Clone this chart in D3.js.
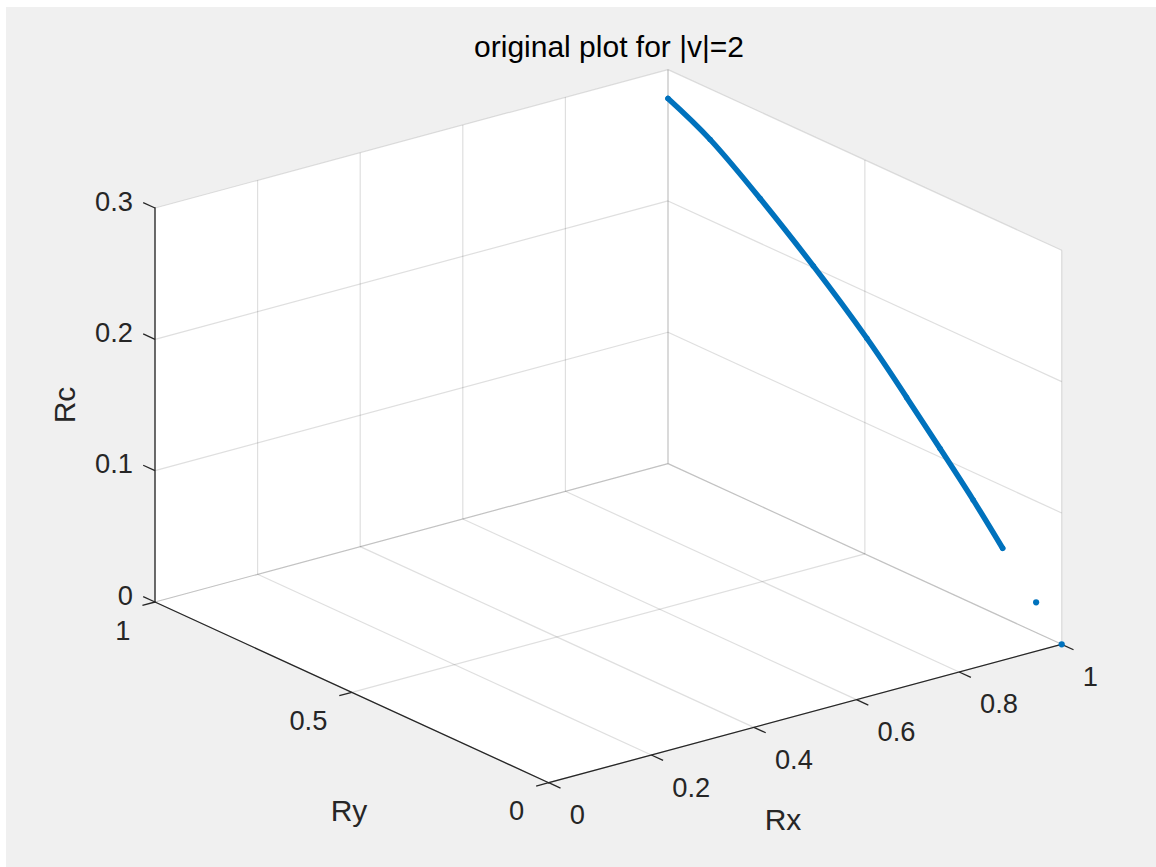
<!DOCTYPE html>
<html>
<head>
<meta charset="utf-8">
<script src="https://cdn.jsdelivr.net/npm/d3@7"></script>
<style>
  html, body { margin: 0; padding: 0; background: #ffffff; }
  svg { display: block; }
  text { font-family: "Liberation Sans", Arial, Helvetica, sans-serif; }
</style>
</head>
<body>
<svg id="chart" width="1156" height="867"></svg>
<script>
// ---- data -------------------------------------------------------------
const titleText = "original plot for |v|=2";
const xLabel = "Rx", yLabel = "Ry", zLabel = "Rc";

// tick values
const rxTicks = [0, 0.2, 0.4, 0.6, 0.8, 1];
const ryTicks = [0, 0.5, 1];
const rcTicks = [0, 0.1, 0.2, 0.3];

// continuous run of samples (all on the Rx = 1 wall)
const traceRx = [1, 1, 1, 1, 1, 1, 1, 1, 1];
const traceRy = [1.000, 0.893, 0.766, 0.631, 0.495, 0.394, 0.309, 0.225, 0.150];
const traceRc = [0.278, 0.2615, 0.234, 0.2013, 0.1649, 0.1338, 0.1065, 0.079, 0.0525];

// isolated samples near the floor
const isoRx = [1, 1];
const isoRy = [0.065, 0];
const isoRc = [0.023, 0];

// ---- layout -----------------------------------------------------------
const W = 1156, H = 867;
const origin = [548.7, 782.7];       // screen position of (0,0,0)
const EX = [513, -138.4];            // screen vector for the full Rx range
const EY = [-393.7, -180.7];         // screen vector for the full Ry range
const EZ = [0, -394];                // screen vector for the full Rc range

const sx = d3.scaleLinear().domain([0, 1]).range([0, 1]);
const sy = d3.scaleLinear().domain([0, 1]).range([0, 1]);
const sz = d3.scaleLinear().domain([0, 0.3]).range([0, 1]);

function project(x, y, z) {
  const a = sx(x), b = sy(y), c = sz(z);
  return [origin[0] + a * EX[0] + b * EY[0] + c * EZ[0],
          origin[1] + a * EX[1] + b * EY[1] + c * EZ[1]];
}
function unit(v) { const l = Math.hypot(v[0], v[1]); return [v[0] / l, v[1] / l]; }

const axisColor = "#262626";
const gridColor = "rgba(38,38,38,0.15)";
const dataColor = "#0072BD";
const tickLen = 13;

const svg = d3.select("#chart");

// figure background
svg.append("rect").attr("x", 0).attr("y", 0).attr("width", W).attr("height", H).attr("fill", "#ffffff");
svg.append("rect").attr("x", 6).attr("y", 7).attr("width", W - 6).attr("height", H - 7).attr("fill", "#f0f0f0");

const [x0, x1] = sx.domain(), [y0, y1] = sy.domain(), [z0, z1] = sz.domain();

// back planes: floor, Ry = max wall, Rx = max wall
const faces = [
  [[x0, y0, z0], [x1, y0, z0], [x1, y1, z0], [x0, y1, z0]],
  [[x0, y1, z0], [x1, y1, z0], [x1, y1, z1], [x0, y1, z1]],
  [[x1, y0, z0], [x1, y1, z0], [x1, y1, z1], [x1, y0, z1]]
];
svg.append("g").selectAll("polygon").data(faces).join("polygon")
  .attr("points", f => f.map(p => project(...p).join(",")).join(" "))
  .attr("fill", "#ffffff").attr("stroke", "#ffffff").attr("stroke-width", 0.5);

// grid lines
const gridSegs = [];
rxTicks.forEach(t => {
  gridSegs.push([[t, y0, z0], [t, y1, z0]]);   // floor
  gridSegs.push([[t, y1, z0], [t, y1, z1]]);   // back wall
});
ryTicks.forEach(t => {
  gridSegs.push([[x0, t, z0], [x1, t, z0]]);   // floor
  gridSegs.push([[x1, t, z0], [x1, t, z1]]);   // side wall
});
rcTicks.forEach(t => {
  gridSegs.push([[x0, y1, t], [x1, y1, t]]);   // back wall
  gridSegs.push([[x1, y0, t], [x1, y1, t]]);   // side wall
});
svg.append("g").selectAll("line").data(gridSegs).join("line")
  .attr("x1", d => project(...d[0])[0]).attr("y1", d => project(...d[0])[1])
  .attr("x2", d => project(...d[1])[0]).attr("y2", d => project(...d[1])[1])
  .attr("stroke", gridColor).attr("stroke-width", 1.2);

// axis lines
const axisSegs = [
  [[x0, y0, z0], [x1, y0, z0]],
  [[x0, y0, z0], [x0, y1, z0]],
  [[x0, y1, z0], [x0, y1, z1]]
];
const gAxes = svg.append("g");
gAxes.selectAll("line.axis").data(axisSegs).join("line").attr("class", "axis")
  .attr("x1", d => project(...d[0])[0]).attr("y1", d => project(...d[0])[1])
  .attr("x2", d => project(...d[1])[0]).attr("y2", d => project(...d[1])[1])
  .attr("stroke", axisColor).attr("stroke-width", 1.3).attr("stroke-linecap", "square");

// tick marks
const uY = unit(EY), uX = unit(EX);
const ticks = [];
rxTicks.forEach(t => { const p = project(t, y0, z0); ticks.push([p, [p[0] - uY[0] * tickLen, p[1] - uY[1] * tickLen]]); });
ryTicks.forEach(t => { const p = project(x0, t, z0); ticks.push([p, [p[0] - uX[0] * tickLen, p[1] - uX[1] * tickLen]]); });
rcTicks.forEach(t => { const p = project(x0, y1, t); ticks.push([p, [p[0] + uY[0] * tickLen, p[1] + uY[1] * tickLen]]); });
gAxes.selectAll("line.tick").data(ticks).join("line").attr("class", "tick")
  .attr("x1", d => d[0][0]).attr("y1", d => d[0][1])
  .attr("x2", d => d[1][0]).attr("y2", d => d[1][1])
  .attr("stroke", axisColor).attr("stroke-width", 1.3);

// tick labels
const tickFont = 27.3, labelFont = 30;
const fmt = d => String(d);
const gLab = svg.append("g").attr("fill", axisColor).attr("font-size", tickFont);
gLab.selectAll("text.rx").data(rxTicks).join("text").attr("class", "rx")
  .attr("x", d => project(d, y0, z0)[0] + 21)
  .attr("y", d => project(d, y0, z0)[1] + 41.5)
  .attr("text-anchor", "start").text(fmt);
gLab.selectAll("text.ry").data(ryTicks).join("text").attr("class", "ry")
  .attr("x", d => project(x0, d, z0)[0] - 24.5)
  .attr("y", d => project(x0, d, z0)[1] + 37.7)
  .attr("text-anchor", "end").text(fmt);
gLab.selectAll("text.rc").data(rcTicks).join("text").attr("class", "rc")
  .attr("x", d => project(x0, y1, d)[0] - 22)
  .attr("y", d => project(x0, y1, d)[1] + 2.5)
  .attr("text-anchor", "end").text(fmt);

// axis labels
svg.append("text").attr("x", 783).attr("y", 830).attr("text-anchor", "middle")
  .attr("font-size", labelFont).attr("fill", axisColor).text(xLabel);
svg.append("text").attr("x", 349).attr("y", 821).attr("text-anchor", "middle")
  .attr("font-size", labelFont).attr("fill", axisColor).text(yLabel);
svg.append("text").attr("transform", "translate(75,405) rotate(-90)").attr("text-anchor", "middle")
  .attr("font-size", labelFont).attr("fill", axisColor).text(zLabel);

// title
svg.append("text").attr("x", 609).attr("y", 57).attr("text-anchor", "middle")
  .attr("font-size", 30).attr("fill", "#000000").text(titleText);

// data: continuous run drawn as a dense trail of dots
const trace = traceRy.map((ry, i) => project(traceRx[i], ry, traceRc[i]));
svg.append("path")
  .attr("d", d3.line().curve(d3.curveNatural)(trace))
  .attr("fill", "none").attr("stroke", dataColor)
  .attr("stroke-width", 5.5).attr("stroke-linecap", "round").attr("stroke-linejoin", "round");
svg.append("g").selectAll("circle").data(trace).join("circle")
  .attr("cx", d => d[0]).attr("cy", d => d[1]).attr("r", 2.75).attr("fill", dataColor);

// isolated points
const iso = isoRy.map((ry, i) => project(isoRx[i], ry, isoRc[i]));
svg.append("g").selectAll("circle").data(iso).join("circle")
  .attr("cx", d => d[0]).attr("cy", d => d[1]).attr("r", 3.1).attr("fill", dataColor);
</script>
</body>
</html>
